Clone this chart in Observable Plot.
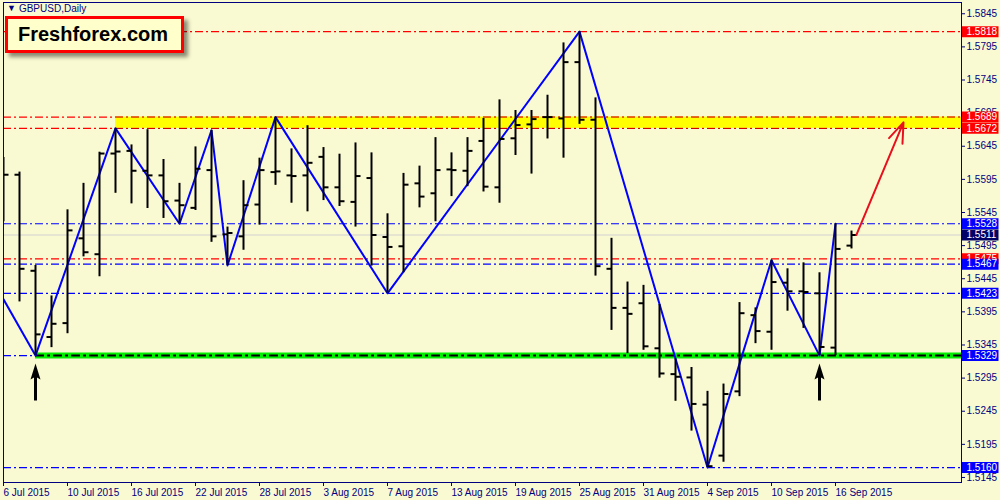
<!DOCTYPE html>
<html>
<head>
<meta charset="utf-8">
<script src="https://cdn.jsdelivr.net/npm/d3@7"></script>
<script src="https://cdn.jsdelivr.net/npm/@observablehq/plot@0.6"></script>
<style>
  body { margin: 0; background: #fafad2; }
  #wrap { position: relative; width: 1000px; height: 500px; overflow: hidden; }
  #title { position: absolute; left: 7px; top: 3px; font: 10px "Liberation Sans", Arial, sans-serif; color: #000080; }
  #title .tri { font-size: 9px; position: relative; top: -1px; margin-right: 3px; }
  #logo { position: absolute; left: 5px; top: 16px; width: 179px; height: 37px; box-sizing: border-box;
          border: 3px solid #ff0000; background: #ffffcc; box-shadow: 4px 4px 4px rgba(0,0,0,0.45);
          font: bold 20px "Liberation Sans", Arial, sans-serif; color: #000; line-height: 31px; padding-left: 10px; }
</style>
</head>
<body>
<div id="wrap">
  <div id="chart"></div>
  <div id="title"><span class="tri">▼</span>GBPUSD,Daily</div>
  <div id="logo">Freshforex.com</div>
</div>
<script>
// ---- Data (GBPUSD daily bars) ----
const dates = [
  "2015-07-06","2015-07-07","2015-07-08","2015-07-09","2015-07-10",
  "2015-07-13","2015-07-14","2015-07-15","2015-07-16","2015-07-17",
  "2015-07-20","2015-07-21","2015-07-22","2015-07-23","2015-07-24",
  "2015-07-27","2015-07-28","2015-07-29","2015-07-30","2015-07-31",
  "2015-08-03","2015-08-04","2015-08-05","2015-08-06","2015-08-07",
  "2015-08-10","2015-08-11","2015-08-12","2015-08-13","2015-08-14",
  "2015-08-17","2015-08-18","2015-08-19","2015-08-20","2015-08-21",
  "2015-08-24","2015-08-25","2015-08-26","2015-08-27","2015-08-28",
  "2015-08-31","2015-09-01","2015-09-02","2015-09-03","2015-09-04",
  "2015-09-07","2015-09-08","2015-09-09","2015-09-10","2015-09-11",
  "2015-09-14","2015-09-15","2015-09-16","2015-09-17"
];
const open = [
  1.5580,1.5602,1.5457,1.5357,1.5378, 1.5506,1.5482,1.5634,1.5638,1.5608,
  1.5601,1.5563,1.5552,1.5609,1.5512, 1.5509,1.5557,1.5606,1.5601,1.5601,
  1.5629,1.5583,1.5561,1.5597,1.5508, 1.5494,1.5589,1.5574,1.5610,1.5608,
  1.5653,1.5583,1.5657,1.5678,1.5689, 1.5687,1.5772,1.5685,1.5460,1.5401,
  1.5408,1.5340,1.5301,1.5296,1.5255, 1.5178,1.5275,1.5390,1.5365,1.5439,
  1.5426,1.5423,1.5341,1.5495
];
const high = [
  1.5628,1.5606,1.5465,1.5419,1.5549, 1.5589,1.5636,1.5672,1.5647,1.5670,
  1.5625,1.5589,1.5644,1.5669,1.5523, 1.5593,1.5627,1.5689,1.5641,1.5676,
  1.5643,1.5633,1.5650,1.5635,1.5543, 1.5604,1.5615,1.5658,1.5635,1.5658,
  1.5687,1.5715,1.5699,1.5699,1.5722, 1.5801,1.5818,1.5718,1.5506,1.5440,
  1.5435,1.5406,1.5324,1.5311,1.5275, 1.5286,1.5409,1.5401,1.5473,1.5460,
  1.5469,1.5454,1.5528,1.5517
];
const low = [
  1.5531,1.5410,1.5329,1.5341,1.5362, 1.5478,1.5448,1.5574,1.5558,1.5551,
  1.5536,1.5528,1.5548,1.5500,1.5465, 1.5488,1.5526,1.5586,1.5559,1.5546,
  1.5563,1.5554,1.5523,1.5464,1.5423, 1.5454,1.5552,1.5531,1.5569,1.5584,
  1.5576,1.5559,1.5631,1.5603,1.5656, 1.5627,1.5678,1.5449,1.5367,1.5332,
  1.5337,1.5295,1.5260,1.5215,1.5160, 1.5168,1.5267,1.5347,1.5337,1.5396,
  1.5370,1.5329,1.5329,1.5490
];
const close = [
  1.5602,1.5460,1.5361,1.5377,1.5518, 1.5485,1.5634,1.5637,1.5608,1.5601,
  1.5562,1.5556,1.5611,1.5509,1.5514, 1.5556,1.5609,1.5607,1.5600,1.5620,
  1.5583,1.5562,1.5600,1.5511,1.5493, 1.5587,1.5569,1.5609,1.5609,1.5638,
  1.5584,1.5656,1.5677,1.5686,1.5689, 1.5772,1.5685,1.5464,1.5401,1.5392,
  1.5343,1.5302,1.5297,1.5256,1.5162, 1.5271,1.5393,1.5366,1.5440,1.5426,
  1.5425,1.5342,1.5490,1.5511
];

// ZigZag pivots (bar index, price)
const zigzagIndex = [0, 2, 7, 11, 13, 14, 17, 24, 36, 44, 48, 51, 52];
const zigzagPrice = [1.5414, 1.5329, 1.5672, 1.5528, 1.5669, 1.5465, 1.5689, 1.5423, 1.5818, 1.5160, 1.5473, 1.5329, 1.5528];

// Horizontal levels
const levelPrice = [1.5818, 1.5689, 1.5672, 1.5528, 1.5511, 1.5475, 1.5467, 1.5423, 1.5329, 1.5160];
const levelKind  = ["red", "red", "red", "blue", "bid", "red", "blue", "blue", "blue", "blue"];

// Zones: resistance (yellow) from bar 7, support (green) from bar 2
const resistanceFrom = 7, resistanceLow = 1.5672, resistanceHigh = 1.5689;
const supportFrom = 2, supportPrice = 1.5329;

// Up arrows under the two lows, red projection arrow
const upArrowBars = [2, 51];
const projection = [{i1: 53.3, p1: 1.5511, i2: 56.25, p2: 1.5681}];

// Axis ticks
const yTicks = [1.5145, 1.5195, 1.5245, 1.5295, 1.5345, 1.5395, 1.5445, 1.5495, 1.5545, 1.5595, 1.5645, 1.5695, 1.5745, 1.5795, 1.5845];
const xTickDates = ["2015-07-06","2015-07-10","2015-07-16","2015-07-22","2015-07-28","2015-08-03","2015-08-07",
                    "2015-08-13","2015-08-19","2015-08-25","2015-08-31","2015-09-04","2015-09-10","2015-09-16"];

// ---- Build tables ----
const bars = dates.map((d, i) => ({i, date: d, open: open[i], high: high[i], low: low[i], close: close[i]}));
const zigzag = zigzagIndex.map((i, k) => ({i, p: zigzagPrice[k]}));
const levels = levelPrice.map((p, k) => ({p, kind: levelKind[k]}));
const xTickIdx = xTickDates.map(d => dates.indexOf(d));
const fmtDate = d3.utcFormat("%-d %b %Y");
const parse = d3.utcParse("%Y-%m-%d");

const X_MAX = 59.875;            // visible span of bar slots
const Y_DOMAIN = [1.51374, 1.5862];

const lineColor = {red: "#ff0000", blue: "#0000ff", bid: "#cfcfcf"};
const boxColor = {red: "#ff0000", blue: "#0000ff", bid: "#000066"};

// custom symbols
const openTick = {draw(c) { c.moveTo(-5, 0); c.lineTo(0, 0); }};
const closeTick = {draw(c) { c.moveTo(0, 0); c.lineTo(5, 0); }};
const labelBox = {draw(c) { c.moveTo(0.5, -5.5); c.lineTo(37, -5.5); c.lineTo(37, 5.5); c.lineTo(0.5, 5.5); c.closePath(); }};
const upArrow = {draw(c) {
  c.moveTo(0, 8); c.lineTo(5, 24); c.lineTo(1.5, 22); c.lineTo(1.5, 45);
  c.lineTo(-1.5, 45); c.lineTo(-1.5, 22); c.lineTo(-5, 24); c.closePath();
}};

const marks = [];
// level lines
for (const kind of ["bid", "red", "blue"]) {
  marks.push(Plot.ruleY(levels.filter(l => l.kind === kind), {
    y: "p", stroke: lineColor[kind], strokeWidth: 1.2,
    strokeDasharray: kind === "bid" ? null : "8,3,2,3"
  }));
}
// resistance zone
marks.push(Plot.rect([{from: resistanceFrom, lo: resistanceLow, hi: resistanceHigh}], {
  x1: "from", x2: () => X_MAX, y1: "lo", y2: "hi", fill: "#ffff00", ariaLabel: "yellow band"
}));
marks.push(Plot.ruleY([resistanceLow, resistanceHigh], {
  x1: resistanceFrom, x2: X_MAX, stroke: "#cc0000", strokeDasharray: "8,3,2,3"
}));
// support zone
marks.push(Plot.ruleY([{from: supportFrom, p: supportPrice}], {
  x1: "from", x2: () => X_MAX, y: "p", stroke: "#00ee00", strokeWidth: 6, ariaLabel: "green band"
}));
marks.push(Plot.ruleY([{from: supportFrom, p: supportPrice}], {
  x1: "from", x2: () => X_MAX, y: "p", stroke: "#000000", strokeWidth: 2, strokeDasharray: "9,3,3,3"
}));
// zigzag
marks.push(Plot.line(zigzag, {x: "i", y: "p", stroke: "#0000ff", strokeWidth: 2, clip: true}));
// OHLC bars
marks.push(Plot.ruleX(bars, {x: "i", y1: "low", y2: "high", stroke: "#000", strokeWidth: 2, clip: true}));
marks.push(Plot.dot(bars, {x: "i", y: "open", symbol: openTick, fill: "none", stroke: "#000", strokeWidth: 2, clip: true}));
marks.push(Plot.dot(bars, {x: "i", y: "close", symbol: closeTick, fill: "none", stroke: "#000", strokeWidth: 2, clip: true}));
// up arrows
marks.push(Plot.dot(upArrowBars.map(i => bars[i]), {x: "i", y: "low", symbol: upArrow, fill: "#000", stroke: "none", ariaLabel: "up arrows"}));
// projection arrow
marks.push(Plot.arrow(projection, {x1: "i1", y1: "p1", x2: "i2", y2: "p2", stroke: "#e8101e", strokeWidth: 2, headLength: 16, headAngle: 40, bend: 0}));
// frame and axes
marks.push(Plot.frame({stroke: "#000080"}));
marks.push(Plot.axisY({anchor: "right", ticks: yTicks, tickFormat: d => d.toFixed(4), tickSize: 3, tickPadding: 2, label: null, fontSize: 10}));
marks.push(Plot.axisX({ticks: xTickIdx, tickFormat: i => fmtDate(parse(dates[i])), tickSize: 4, tickPadding: 2, textAnchor: "start", label: null, fontSize: 10}));
// price labels on the right scale
for (const l of levels) {
  marks.push(Plot.dot([l], {x: () => X_MAX, y: "p", symbol: labelBox, fill: boxColor[l.kind], stroke: "none"}));
  marks.push(Plot.text([l], {x: () => X_MAX, y: "p", text: d => d.p.toFixed(4), fill: "#fff", textAnchor: "start", dx: 5, fontSize: 10}));
}

const svg = Plot.plot({
  width: 1000, height: 500,
  marginLeft: 3, marginRight: 39, marginTop: 2, marginBottom: 18,
  x: {domain: [0, X_MAX]},
  y: {domain: Y_DOMAIN},
  style: {background: "#fafad2", color: "#000080", fontFamily: "'Liberation Sans', Arial, sans-serif", fontSize: "10px"},
  marks
});

// drop shadows
const sel = d3.select(svg);
const f = sel.insert("defs", ":first-child").append("filter")
  .attr("id", "shadow").attr("filterUnits", "userSpaceOnUse")
  .attr("x", 0).attr("y", 0).attr("width", 1000).attr("height", 500);
f.append("feDropShadow").attr("dx", 2).attr("dy", 4).attr("stdDeviation", 2)
  .attr("flood-color", "#000").attr("flood-opacity", 0.45);
sel.selectAll('g[aria-label="yellow band"], g[aria-label="green band"], g[aria-label="up arrows"]').attr("filter", "url(#shadow)");

document.getElementById("chart").appendChild(svg);
</script>
</body>
</html>
